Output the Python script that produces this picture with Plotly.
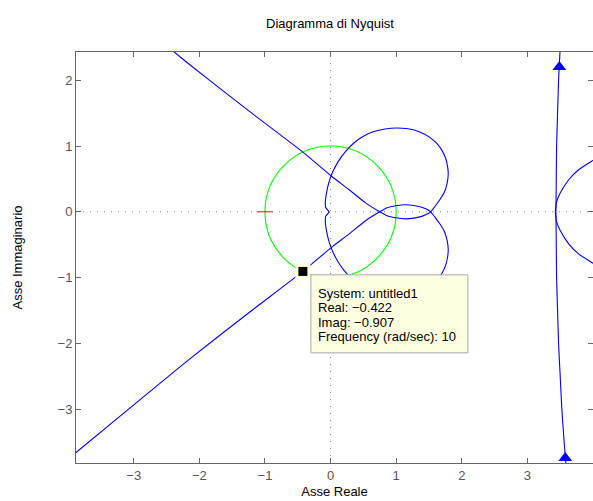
import plotly.graph_objects as go

# ---------------- data ----------------
# branch for omega > 0 (lower-left asymptote -> omega=10 point -> small bump -> lower loop -> origin)
branch_re = [-4.10, -3.88, -2.198, -1.236, -0.422, 0.006, 0.284, 0.538, 0.75, 0.86,
             0.994, 1.146, 1.348, 1.45, 1.526, 1.59, 1.67, 1.735, 1.775, 1.793,
             1.785, 1.755, 1.70, 1.62, 1.50, 1.36, 1.18, 1.003, 0.83, 0.66,
             0.50, 0.36, 0.23, 0.12, 0.03, -0.03, -0.065, -0.08, -0.075, -0.02]
branch_im = [-3.84, -3.66, -2.278, -1.527, -0.907, -0.548, -0.335, -0.132, 0.0, 0.06,
             0.091, 0.107, 0.081, 0.045, 0.0, -0.08, -0.19, -0.30, -0.43, -0.56,
             -0.68, -0.81, -0.93, -1.04, -1.14, -1.215, -1.262, -1.275, -1.26, -1.22,
             -1.15, -1.05, -0.92, -0.77, -0.60, -0.43, -0.27, -0.15, -0.07, 0.0]

# near-vertical branch (upper half, mirrored for negative frequencies)
vert_re = [3.435, 3.44, 3.445, 3.46, 3.475, 3.50, 3.525, 3.56, 3.60]
vert_im = [0.0, 0.5, 1.0, 1.5, 2.0, 2.5, 3.0, 3.5, 4.0]

# right-hand curve (upper half, mirrored)
para_re = [3.425, 3.445, 3.50, 3.63, 3.78, 3.98, 4.20]
para_im = [0.0, 0.15, 0.285, 0.487, 0.64, 0.77, 0.90]

# direction arrows
arrow_re = [3.487, 3.577]
arrow_im = [2.20, -3.745]

# critical point
crit_re = [-1.0]
crit_im = [0.0]

# data tip
tip_system = "untitled1"
tip_re = -0.422
tip_im = -0.907
tip_freq = 10

x_ticks = [-3, -2, -1, 0, 1, 2, 3, 4]
y_ticks = [-3, -2, -1, 0, 1, 2]

# ---------------- figure ----------------
FONT = "Liberation Sans, Arial, Helvetica, sans-serif"
BLUE = "#0000ff"
W, H = 593, 501
ML, MR, MT, MB = 76, 0, 52, 38
XR = [-3.88, 4.0]
YR = [-3.82, 2.43]

sx = (W - ML - MR) / (XR[1] - XR[0])
sy = (H - MT - MB) / (YR[1] - YR[0])

fig = go.Figure()

fig.add_trace(go.Scatter(x=crit_re, y=crit_im, mode="markers",
                         marker=dict(symbol="line-ew", size=11,
                                     line=dict(color="#ff0000", width=1)),
                         hoverinfo="skip"))

line_kw = dict(mode="lines", line=dict(color=BLUE, width=1.1, shape="spline", smoothing=0.5),
               hoverinfo="skip")
fig.add_trace(go.Scatter(x=branch_re, y=branch_im, **line_kw))
fig.add_trace(go.Scatter(x=branch_re, y=[-v for v in branch_im], **line_kw))
fig.add_trace(go.Scatter(x=vert_re, y=vert_im, **line_kw))
fig.add_trace(go.Scatter(x=vert_re, y=[-v for v in vert_im], **line_kw))
fig.add_trace(go.Scatter(x=para_re, y=para_im, **line_kw))
fig.add_trace(go.Scatter(x=para_re, y=[-v for v in para_im], **line_kw))

fig.add_trace(go.Scatter(x=arrow_re, y=arrow_im, mode="markers",
                         marker=dict(symbol="triangle-up", size=12, color=BLUE,
                                     line=dict(width=0)),
                         hoverinfo="skip"))

# data tip marker (halo + black square)
fig.add_trace(go.Scatter(x=[tip_re], y=[tip_im], mode="markers",
                         marker=dict(symbol="square", size=15, color="#ffffe0",
                                     line=dict(width=0)), hoverinfo="skip"))
fig.add_trace(go.Scatter(x=[tip_re], y=[tip_im], mode="markers",
                         marker=dict(symbol="square", size=9, color="#000000",
                                     line=dict(width=0)), hoverinfo="skip"))

shapes = []
# dotted zero lines
shapes.append(dict(type="line", xref="x", yref="y domain", x0=0, x1=0, y0=0, y1=1,
                   line=dict(color="#808080", width=1, dash="1px,6px"), layer="below"))
shapes.append(dict(type="line", xref="x domain", yref="y", x0=0, x1=1, y0=0, y1=0,
                   line=dict(color="#808080", width=1, dash="1px,6px"), layer="below"))
# unit circle
shapes.append(dict(type="circle", xref="x", yref="y", x0=-1, x1=1, y0=-1, y1=1,
                   line=dict(color="#00ff00", width=1.1), layer="below"))

# tooltip box
bx0 = tip_re + 8.0 / sx
bx1 = bx0 + 157 / sx
by0 = tip_im - 3.4 / sy
by1 = by0 - 78 / sy
shapes.append(dict(type="rect", xref="x", yref="y", x0=bx0, x1=bx1, y0=by0, y1=by1,
                   fillcolor="#ffffe1", line=dict(color="#a8a8a8", width=1), layer="above"))


def fmt(v):
    return f"{v:.3f}".replace("-", "\u2212")


tip_lines = [f"System: {tip_system}",
             f"Real: {fmt(tip_re)}",
             f"Imag: {fmt(tip_im)}",
             f"Frequency (rad/sec): {tip_freq}"]
line_off = [18.3, 32.7, 47.3, 61.7]
annotations = []
for txt, off in zip(tip_lines, line_off):
    annotations.append(dict(x=bx0 + 5.3 / sx, y=by0 - off / sy, xref="x", yref="y",
                            text=txt, showarrow=False, xanchor="left", yanchor="middle",
                            font=dict(family=FONT, size=13, color="#000000")))

axis_common = dict(showgrid=False, zeroline=False, showline=True, linecolor="#666666",
                   linewidth=1, mirror="ticks", ticks="inside", ticklen=5,
                   tickcolor="#666666", tickwidth=1,
                   tickfont=dict(family=FONT, size=13, color="#555555"))

fig.update_layout(
    width=W, height=H,
    margin=dict(l=ML, r=MR, t=MT, b=MB, pad=0),
    paper_bgcolor="#ffffff", plot_bgcolor="#ffffff",
    showlegend=False,
    shapes=shapes,
    annotations=annotations,
    title=dict(text="Diagramma di Nyquist", x=330 / W, xref="container", xanchor="center",
               y=1 - 23 / H, yref="container", yanchor="middle",
               font=dict(family=FONT, size=13, color="#000000")),
    xaxis=dict(range=XR, tickvals=x_ticks, **axis_common,
               title=dict(text="Asse Reale", standoff=5,
                          font=dict(family=FONT, size=13, color="#000000"))),
    yaxis=dict(range=YR, tickvals=y_ticks, **axis_common,
               title=dict(text="Asse Immaginario", standoff=32,
                          font=dict(family=FONT, size=13, color="#000000"))),
)

fig.write_html("out.html")
